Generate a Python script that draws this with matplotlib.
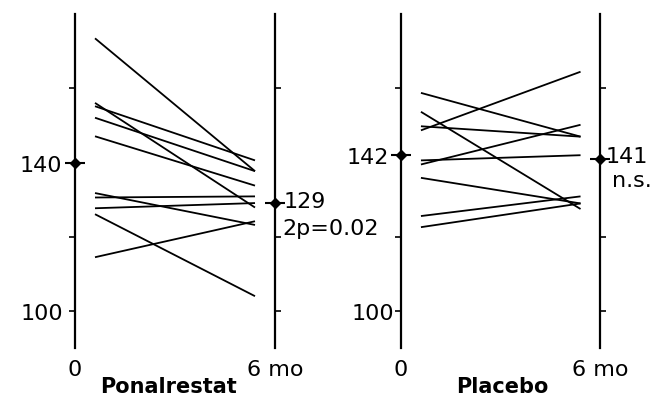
import matplotlib.pyplot as plt

# individual values, baseline (0 mo) and after 6 months
pon_before = [173.5, 156.1, 155.2, 152.1, 147.1, 131.8, 130.6, 127.7, 126.1, 114.5]
pon_after = [137.7, 127.9, 140.6, 137.7, 133.8, 123.2, 130.9, 129.1, 104.0, 124.2]
plac_before = [158.8, 153.7, 148.7, 149.8, 139.5, 140.6, 135.9, 125.6, 122.6]
plac_after = [147.0, 127.5, 164.5, 147.0, 150.2, 142.0, 129.0, 130.9, 129.0]

# group means shown on the axes
pon_means = [140, 129]
plac_means = [142, 141]
pon_stat = "2p=0.02"
plac_stat = "n.s."

yticks = [100, 120, 160]
months = [0, 6]
line_x = [0.6, 5.4]

plt.rcParams['font.family'] = ['DejaVu Sans']

fig = plt.figure(figsize=(6.62, 4.06), dpi=100)
bottom, height = 0.1401, 0.8224


def draw_panel(ax, before, after, means, xlim):
    ax.patch.set_visible(False)
    ax.set_xlim(*xlim)
    ax.set_ylim(90, 180)
    ax.spines['top'].set_visible(False)
    ax.spines['bottom'].set_visible(False)
    ax.spines['left'].set_position(('data', months[0]))
    ax.spines['right'].set_position(('data', months[1]))
    for s in ['left', 'right']:
        ax.spines[s].set_linewidth(1.6)
    ax.set_xticks([])
    ax.set_yticks(yticks)
    ax.yaxis.set_ticks_position('both')
    ax.tick_params(axis='y', direction='out', length=4.5, width=1.2,
                   labelleft=False, labelright=False)
    for b, a in zip(before, after):
        ax.plot(line_x, [b, a], color='black', lw=1.3, solid_capstyle='butt')
    for x, m in zip(months, means):
        ax.plot(x, m, marker='_', ms=15, mew=1.5, color='black', clip_on=False)
        ax.plot(x, m, marker='D', ms=5.5, color='black', clip_on=False)
    ax.text(0, 82.7, "0", ha='center', va='baseline', fontsize=16)
    ax.text(6, 82.7, "6 mo", ha='center', va='baseline', fontsize=16)


ax1 = fig.add_axes([0.0, bottom, 0.5, height])
draw_panel(ax1, pon_before, pon_after, pon_means, (-2.25, 7.68))
ax1.text(-0.39, pon_means[0], str(pon_means[0]), ha='right',
         va='center_baseline', fontsize=16)
ax1.text(-0.36, 100, "100", ha='right', va='center_baseline', fontsize=16)
ax1.text(6.27, 128.0, str(pon_means[1]), ha='left', va='baseline', fontsize=16)
ax1.text(6.21, 120.8, pon_stat, ha='left', va='baseline', fontsize=16)
ax1.text(2.8, 78.2, "Ponalrestat", ha='center', va='baseline',
         fontsize=15, fontweight='bold')

ax2 = fig.add_axes([0.5, bottom, 0.5, height])
draw_panel(ax2, plac_before, plac_after, plac_means, (-2.105, 7.85))
ax2.text(-0.36, plac_means[0], str(plac_means[0]), ha='right',
         va='center_baseline', fontsize=16)
ax2.text(-0.21, 100, "100", ha='right', va='center_baseline', fontsize=16)
ax2.text(6.15, 140.2, str(plac_means[1]), ha='left', va='baseline', fontsize=16)
ax2.text(6.35, 133.7, plac_stat, ha='left', va='baseline', fontsize=16)
ax2.text(3.05, 78.2, "Placebo", ha='center', va='baseline',
         fontsize=15, fontweight='bold')

fig.savefig("out.png", dpi=100)
